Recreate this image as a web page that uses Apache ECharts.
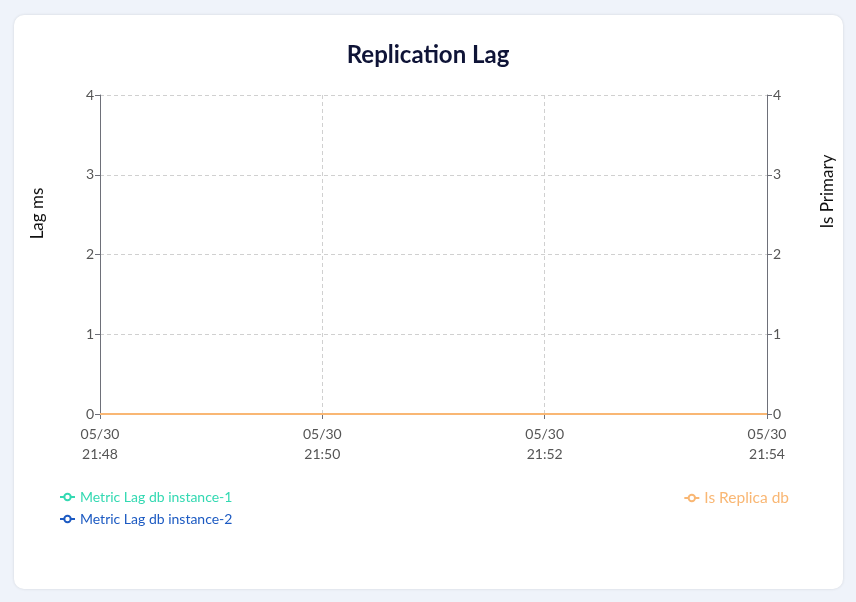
<!DOCTYPE html>
<html>
<head>
<meta charset="utf-8">
<script src="https://cdn.jsdelivr.net/npm/echarts@6/dist/echarts.min.js"></script>
<style>
html,body{margin:0;padding:0;background:#eff3fa;width:856px;height:602px;overflow:hidden;}
#card{position:absolute;left:14px;top:15px;width:829px;height:574px;background:#fff;border-radius:10px;box-shadow:0 0 3px rgba(0,0,0,0.12);}
#chart{position:absolute;left:0;top:0;width:856px;height:602px;}
</style>
</head>
<body>
<div id="card"></div>
<div id="chart"></div>
<script>
const titleText = 'Replication Lag';
const seriesNames = ['Metric Lag db instance-1', 'Metric Lag db instance-2', 'Is Replica db'];
const timeStamps = ['2024-05-30 21:48:00', '2024-05-30 21:49:00', '2024-05-30 21:50:00', '2024-05-30 21:51:00', '2024-05-30 21:52:00', '2024-05-30 21:53:00', '2024-05-30 21:54:00'];
const lagInstance1 = [0, 0, 0, 0, 0, 0, 0];
const lagInstance2 = [0, 0, 0, 0, 0, 0, 0];
const isReplica = [0, 0, 0, 0, 0, 0, 0];
const yTicks = [0, 1, 2, 3, 4];
const axisStart = '2024-05-30 21:48:00';
const axisEnd = '2024-05-30 21:54:00';
const tickStepMinutes = 2;

const colors = ['#33d9b2', '#1c5ac2', '#f9b774'];
const FONT = 'Lato';

function toTs(s){ const p = s.split(/[- :]/).map(Number); return Date.UTC(p[0], p[1]-1, p[2], p[3], p[4], p[5]); }
function pad(n){ return (n<10?'0':'')+n; }
function pairs(vals){ return timeStamps.map((t,i)=>[toTs(t), vals[i]]); }

const chart = echarts.init(document.getElementById('chart'));
const yCommon = {
  type: 'value', min: yTicks[0], max: yTicks[yTicks.length-1], interval: 1,
  nameLocation: 'middle',
  axisLine: {show: true, lineStyle: {color: '#6e7079', width: 1}},
  axisTick: {show: true, length: 5, lineStyle: {color: '#6e7079'}},
  axisLabel: {color: '#555', fontSize: 14, fontFamily: FONT, margin: 6},
};
chart.setOption({
  animation: false,
  title: {text: titleText, left: 'center', top: 38, textStyle: {fontSize: 24, fontWeight: 'bold', color: '#0f1437', fontFamily: FONT}},
  grid: {left: 100, right: 89, top: 95, bottom: 188, containLabel: false},
  legend: [
    {data: [
      {name: seriesNames[0], textStyle: {color: colors[0]}},
      {name: seriesNames[1], textStyle: {color: colors[1]}}
    ], orient: 'vertical', left: 54, top: 485, itemWidth: 15, itemHeight: 8, itemGap: 8,
     textStyle: {fontSize: 14, fontFamily: FONT}},
    {data: [{name: seriesNames[2], textStyle: {color: colors[2]}}],
     orient: 'vertical', right: 62, top: 485, itemWidth: 15, itemHeight: 8,
     textStyle: {fontSize: 15.5, fontFamily: FONT}}
  ],
  xAxis: {
    type: 'value', min: toTs(axisStart), max: toTs(axisEnd), interval: tickStepMinutes*60000,
    axisLine: {show: true, lineStyle: {color: '#6e7079'}},
    axisTick: {show: true, length: 5, lineStyle: {color: '#6e7079'}},
    splitLine: {show: true, lineStyle: {color: '#d0d0d0', type: [4, 3]}},
    axisLabel: {color: '#555', fontSize: 14, fontFamily: FONT, lineHeight: 20, margin: 10, showMinLabel: true, showMaxLabel: true,
      formatter: function(v){ const d = new Date(v); return pad(d.getUTCMonth()+1)+'/'+pad(d.getUTCDate())+'\n'+pad(d.getUTCHours())+':'+pad(d.getUTCMinutes()); }}
  },
  yAxis: [
    Object.assign({}, yCommon, {name: 'Lag ms', position: 'left', nameGap: 54,
      nameTextStyle: {color: '#111', fontSize: 17, fontFamily: FONT, padding: [0, 0, 0, 82]},
      splitLine: {show: true, lineStyle: {color: '#d0d0d0', type: [4, 3]}}}),
    Object.assign({}, yCommon, {name: 'Is Primary', position: 'right', nameGap: 52,
      nameTextStyle: {color: '#111', fontSize: 17, fontFamily: FONT, padding: [0, 0, 0, 126]},
      splitLine: {show: false}})
  ],
  series: [
    {name: seriesNames[0], type: 'line', yAxisIndex: 0, data: pairs(lagInstance1), color: colors[0], showSymbol: false, symbol: 'emptyCircle', lineStyle: {width: 2}},
    {name: seriesNames[1], type: 'line', yAxisIndex: 0, data: pairs(lagInstance2), color: colors[1], showSymbol: false, symbol: 'emptyCircle', lineStyle: {width: 2}},
    {name: seriesNames[2], type: 'line', yAxisIndex: 1, data: pairs(isReplica), color: colors[2], showSymbol: false, symbol: 'emptyCircle', lineStyle: {width: 2}}
  ]
});
</script>
</body>
</html>
